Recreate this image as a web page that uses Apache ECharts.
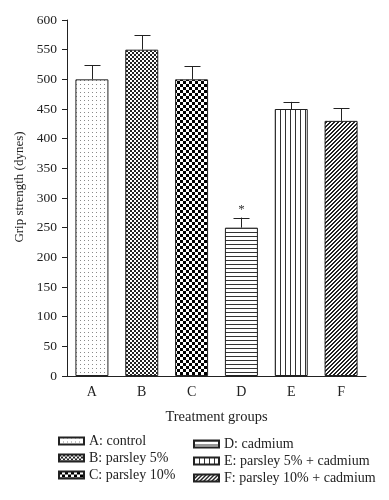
<!DOCTYPE html>
<html><head><meta charset="utf-8">
<script src="https://cdn.jsdelivr.net/npm/echarts@6/dist/echarts.min.js"></script>
<style>html,body{margin:0;padding:0;background:#fff}#c{width:389px;height:500px}</style>
</head><body><div id="c"></div>
<script>
var categories = ['A','B','C','D','E','F'];
var seriesNames = ['A: control','B: parsley 5%','C: parsley 10%','D: cadmium','E: parsley 5% + cadmium','F: parsley 10% + cadmium'];
var values = [500, 550, 500, 250, 450, 430];
var errorTops = [524, 574, 522, 267, 462, 451];
var significance = ['', '', '', '*', '', ''];
var yTicks = [0,50,100,150,200,250,300,350,400,450,500,550,600];
var yTitle = 'Grip strength (dynes)';
var xTitle = 'Treatment groups';

function pat(w, h, draw) {
  var c = document.createElement('canvas'); c.width = w; c.height = h;
  var x = c.getContext('2d'); x.fillStyle = '#fff'; x.fillRect(0,0,w,h); draw(x);
  return {image: c, repeat: 'repeat'};
}
var patterns = [
  pat(4,4,function(x){x.fillStyle='#8a8a8a';x.fillRect(0,0,1,1);}),
  pat(4,4,function(x){x.fillStyle='#222';x.fillRect(0,0,2,2);x.fillRect(2,2,2,2);}),
  pat(6,6,function(x){x.fillStyle='#000';x.fillRect(0,0,3,3);x.fillRect(3,3,3,3);}),
  pat(4,4,function(x){x.fillStyle='#333';x.fillRect(0,0,4,1);}),
  pat(5,5,function(x){x.fillStyle='#333';x.fillRect(0,0,1,5);}),
  pat(4,4,function(x){x.fillStyle='#222';x.fillRect(3,0,1,1);x.fillRect(2,1,1,1);x.fillRect(1,2,1,1);x.fillRect(0,3,1,1);x.fillRect(0,0,1,1);x.fillRect(3,1,1,1);x.fillRect(2,2,1,1);x.fillRect(1,3,1,1);})
];

var font = '"Liberation Serif","DejaVu Serif",serif';
var series = seriesNames.map(function(n,i){
  return {
    name: n, type: 'bar', barWidth: 33, barGap: '-100%',
    data: categories.map(function(c,j){ return j===i ? values[j] : null; }),
    itemStyle: {color: patterns[i], borderColor: '#222', borderWidth: 1},
    emphasis: {disabled: true}
  };
});
series.push({
  type: 'custom', name: 'err', silent: true, z: 5,
  data: categories.map(function(c,j){ return [j, values[j], errorTops[j]]; }),
  renderItem: function(params, api){
    var b = api.coord([api.value(0), api.value(1)]);
    var t = api.coord([api.value(0), api.value(2)]);
    var x = Math.round(b[0]) + 0.5;
    var ch = [
      {type:'line', shape:{x1:x,y1:b[1],x2:x,y2:t[1]}, style:{stroke:'#222',lineWidth:1}},
      {type:'line', shape:{x1:x-8,y1:Math.round(t[1])+0.5,x2:x+8,y2:Math.round(t[1])+0.5}, style:{stroke:'#222',lineWidth:1}}
    ];
    var s = significance[params.dataIndex];
    if (s) ch.push({type:'text', x:x, y:t[1]-2, style:{text:s, fill:'#333', font:'13px '+font, align:'center', verticalAlign:'bottom'}});
    return {type:'group', children: ch};
  }
});

var legendBase = {orient:'vertical', itemWidth:25, itemHeight:7, itemGap:3, icon:'rect',
  textStyle:{fontFamily:font, fontSize:14, color:'#222'}, selectedMode:false};
var chart = echarts.init(document.getElementById('c'));
chart.setOption({
  animation: false,
  backgroundColor: '#fff',
  grid: {left: 67, right: 23, top: 20, bottom: 124},
  legend: [
    Object.assign({left: 53, top: 429, data: seriesNames.slice(0,3)}, legendBase),
    Object.assign({left: 188, top: 432, data: seriesNames.slice(3)}, legendBase)
  ],
  graphic: [{type:'text', x: 13, y: 187, rotation: Math.PI/2,
    style:{text: yTitle, font: '13px '+font, fill:'#222', align:'center', verticalAlign:'top'}}],
  xAxis: {type:'category', data: categories,
    axisLine:{lineStyle:{color:'#222'}}, axisTick:{alignWithLabel:true, length:5, lineStyle:{color:'#222'}},
    axisLabel:{fontFamily:font, fontSize:14, color:'#222', margin:9},
    name: xTitle, nameLocation:'middle', nameGap:34,
    nameTextStyle:{fontFamily:font, fontSize:14.5, color:'#222'}},
  yAxis: {type:'value', min: yTicks[0], max: yTicks[yTicks.length-1], interval: yTicks[1]-yTicks[0],
    axisLine:{show:true, lineStyle:{color:'#222'}}, axisTick:{show:true, length:5, lineStyle:{color:'#222'}},
    splitLine:{show:false},
    axisLabel:{fontFamily:font, fontSize:13.5, color:'#222', margin:10}},
  series: series
});
</script></body></html>
